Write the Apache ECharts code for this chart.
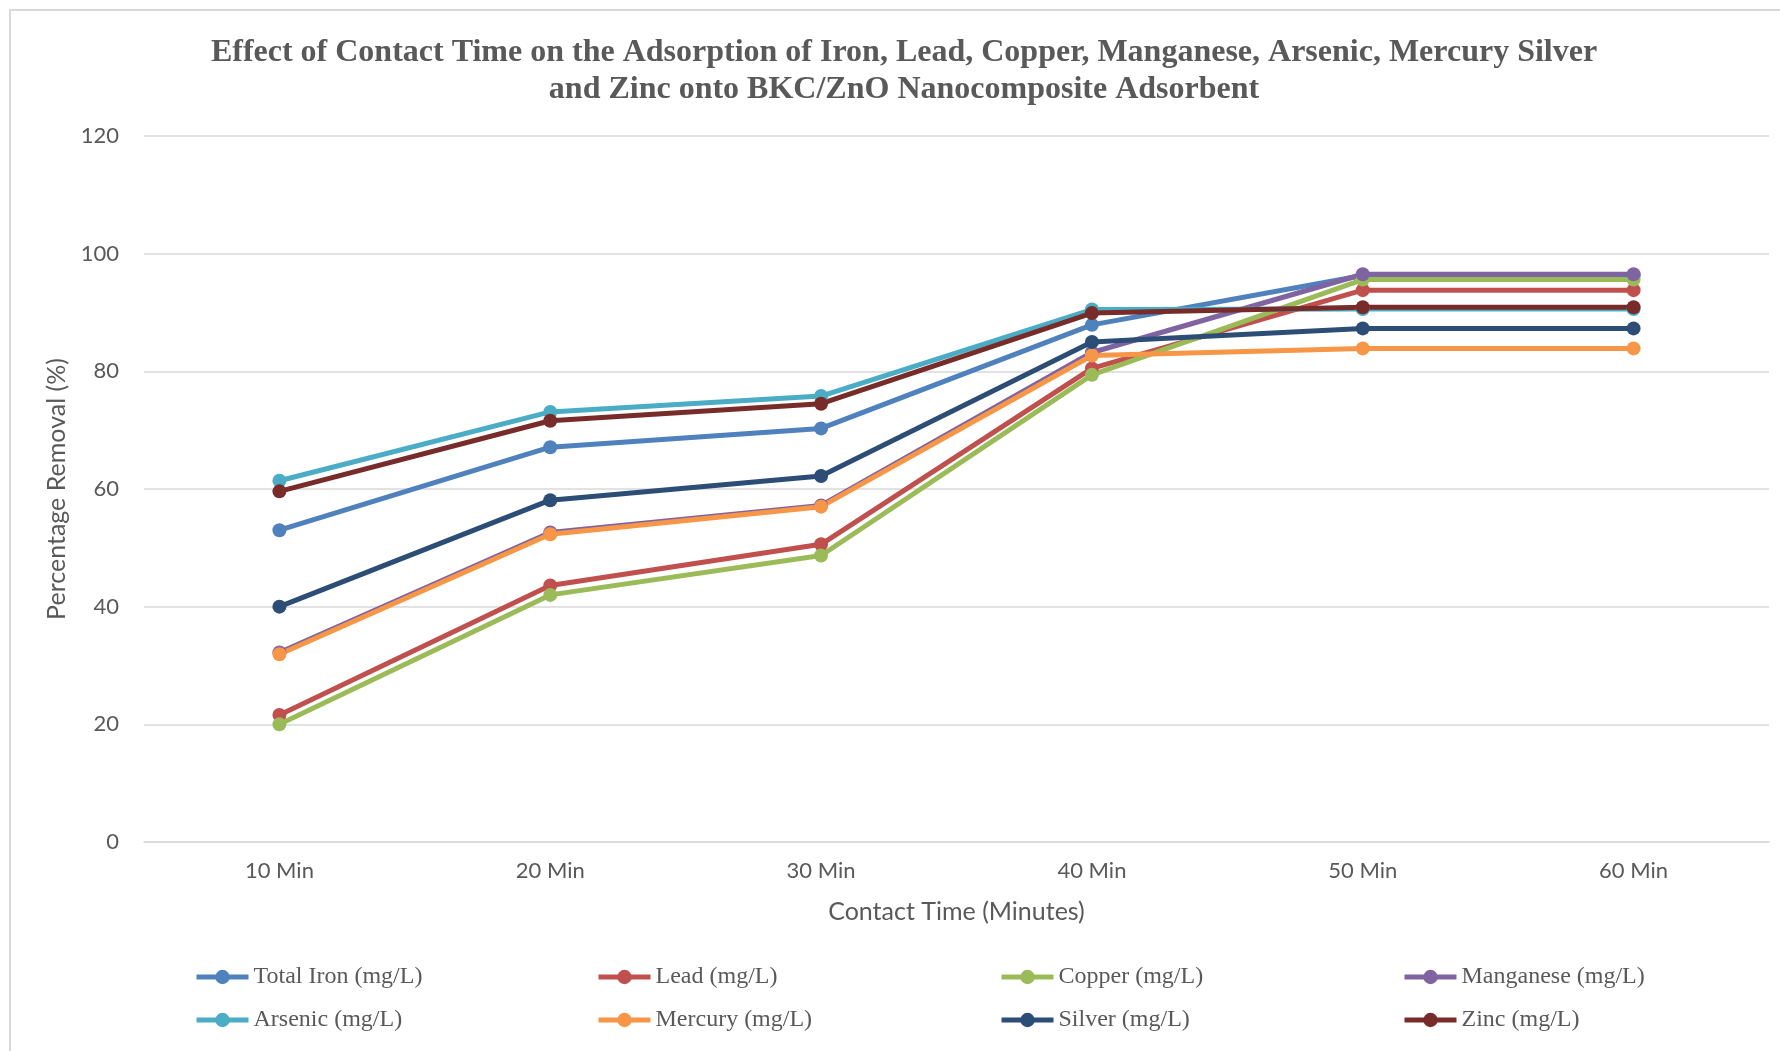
<!DOCTYPE html>
<html>
<head>
<meta charset="utf-8">
<script src="https://cdn.jsdelivr.net/npm/echarts@6/dist/echarts.min.js"></script>
<style>
  html, body { margin: 0; padding: 0; background: #ffffff; }
  #chart { width: 1780px; height: 1051px; }
</style>
</head>
<body>
<div id="chart"></div>
<script>
// Contact time categories
const categories = ['10 Min', '20 Min', '30 Min', '40 Min', '50 Min', '60 Min'];

// Percentage removal per metal
const totalIron = [53.0, 67.1, 70.3, 87.9, 96.3, 96.3];
const lead      = [21.6, 43.6, 50.6, 80.5, 93.8, 93.8];
const copper    = [20.0, 42.0, 48.7, 79.4, 95.6, 95.6];
const manganese = [32.2, 52.6, 57.2, 83.2, 96.5, 96.5];
const arsenic   = [61.4, 73.1, 75.8, 90.5, 90.6, 90.6];
const mercury   = [31.9, 52.3, 57.0, 82.7, 83.9, 83.9];
const silver    = [40.0, 58.1, 62.2, 85.0, 87.3, 87.3];
const zinc      = [59.6, 71.6, 74.5, 89.9, 90.9, 90.9];

const seriesNames = [
  'Total Iron (mg/L)', 'Lead (mg/L)', 'Copper (mg/L)', 'Manganese (mg/L)',
  'Arsenic (mg/L)', 'Mercury (mg/L)', 'Silver (mg/L)', 'Zinc (mg/L)'
];
const seriesData = [totalIron, lead, copper, manganese, arsenic, mercury, silver, zinc];
const seriesColors = ['#4F81BD', '#C0504D', '#9BBB59', '#8064A2', '#4BACC6', '#F79646', '#2C4D75', '#772C2A'];

const yTicks = { min: 0, max: 120, interval: 20 };

const textGray = '#595959';
const gridGray = '#D9D9D9';
const sansFont = 'Lato';
const serifFont = 'Liberation Serif';

// Legend: two rows of four, each entry placed in its own column
const legendCols = [194, 596, 999, 1402];
const legendRows = [965, 1008];
const legends = seriesNames.map((name, i) => ({
  data: [name],
  left: legendCols[i % 4],
  top: legendRows[Math.floor(i / 4)],
  padding: 0,
  itemWidth: 52,
  itemHeight: 18,
  itemGap: 0,
  lineStyle: { width: 5 },
  textStyle: { fontFamily: serifFont, fontSize: 24, color: textGray }
}));

const chart = echarts.init(document.getElementById('chart'), null, { renderer: 'canvas' });

chart.setOption({
  backgroundColor: '#ffffff',
  animation: false,
  title: {
    text: 'Effect of Contact Time on the Adsorption of Iron, Lead, Copper, Manganese, Arsenic, Mercury Silver\nand Zinc onto BKC/ZnO Nanocomposite Adsorbent',
    left: 904,
    top: 34,
    padding: 0,
    textAlign: 'center',
    textStyle: {
      fontFamily: serifFont,
      fontWeight: 'bold',
      fontSize: 32,
      lineHeight: 37,
      color: textGray
    }
  },
  graphic: [{
    type: 'rect',
    silent: true,
    shape: { x: 10, y: 10, width: 1800, height: 1100 },
    style: { fill: 'none', stroke: gridGray, lineWidth: 2 }
  }],
  legend: legends,
  grid: { left: 144, right: 11, top: 136, bottom: 209, containLabel: false },
  xAxis: {
    type: 'category',
    data: categories,
    boundaryGap: true,
    axisLine: { show: true, lineStyle: { color: gridGray, width: 1.5 } },
    axisTick: { show: false },
    axisLabel: { margin: 18, fontFamily: sansFont, fontSize: 22, color: textGray },
    name: 'Contact Time (Minutes)',
    nameLocation: 'middle',
    nameGap: 57,
    nameTextStyle: { fontFamily: sansFont, fontSize: 25, color: textGray }
  },
  yAxis: {
    type: 'value',
    min: yTicks.min,
    max: yTicks.max,
    interval: yTicks.interval,
    axisLine: { show: false },
    axisTick: { show: false },
    splitLine: { show: true, lineStyle: { color: gridGray, width: 1.5 } },
    axisLabel: { margin: 25, fontFamily: sansFont, fontSize: 22, color: textGray },
    name: 'Percentage Removal (%)',
    nameLocation: 'middle',
    nameGap: 72,
    nameTextStyle: { fontFamily: sansFont, fontSize: 25, color: textGray }
  },
  series: seriesNames.map((name, i) => ({
    name: name,
    type: 'line',
    data: seriesData[i],
    symbol: 'circle',
    symbolSize: 14,
    showSymbol: true,
    lineStyle: { width: 5, color: seriesColors[i] },
    itemStyle: { color: seriesColors[i] }
  }))
});
</script>
</body>
</html>
